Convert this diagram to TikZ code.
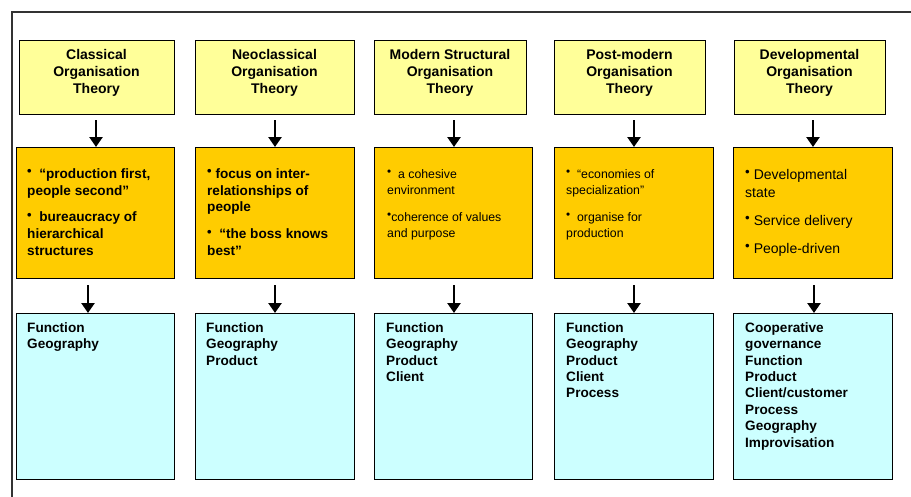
\documentclass[tikz,border=0pt]{standalone}
\usepackage{fontspec}
\setmainfont{Liberation Sans}
\usetikzlibrary{arrows.meta}

\definecolor{theoryfill}{HTML}{FFFF99}
\definecolor{traitfill}{HTML}{FFCC00}
\definecolor{formfill}{HTML}{CCFFFF}
\definecolor{framegray}{HTML}{333333}

\newcommand{\bul}{\raisebox{2.5pt}{\scalebox{0.95}{\textbullet}}}
\newcommand{\topstrut}{\rule{0pt}{10pt}}

\tikzset{
  box/.style={draw=black, line width=1.2pt, inner sep=0pt, anchor=north west},
  theory/.style={box, fill=theoryfill},
  trait/.style={box, fill=traitfill},
  form/.style={box, fill=formfill},
  headtext/.style={anchor=north, inner sep=0pt, align=center,
    font=\fontsize{14}{17}\selectfont\bfseries},
  bodytext/.style={anchor=north west, inner sep=0pt, align=left},
  flow/.style={line width=2.6pt, -{Triangle[width=13pt,length=10pt]}},
}

\begin{document}
\begin{tikzpicture}[x=1pt, y=-1pt]
\useasboundingbox (0,0) rectangle (911,496);

% outer frame (runs off the right and bottom edges)
\draw[framegray, line width=2pt] (912,12) -- (12,12) -- (12,497);

% theory boxes
\node[theory, minimum width=155pt, minimum height=74pt] (t1) at (19,40) {};
\node[theory, minimum width=159pt, minimum height=74pt] (t2) at (195,40) {};
\node[theory, minimum width=152pt, minimum height=74pt] (t3) at (374,40) {};
\node[theory, minimum width=151pt, minimum height=74pt] (t4) at (554,40) {};
\node[theory, minimum width=151pt, minimum height=74pt] (t5) at (734,40) {};

\node[headtext] (tt1) at (96.5,49) {\topstrut Classical\\Organisation\\Theory};
\node[headtext] (tt2) at (274.5,49) {\topstrut Neoclassical\\Organisation\\Theory};
\node[headtext] (tt3) at (450,49) {\topstrut Modern Structural\\Organisation\\Theory};
\node[headtext] (tt4) at (629.5,49) {\topstrut Post-modern\\Organisation\\Theory};
\node[headtext] (tt5) at (809.5,49) {\topstrut Developmental\\Organisation\\Theory};

% characteristic boxes
\node[trait, minimum width=158pt, minimum height=131pt] (c1) at (16,147) {};
\node[trait, minimum width=159pt, minimum height=131pt] (c2) at (195,147) {};
\node[trait, minimum width=158pt, minimum height=131pt] (c3) at (374,147) {};
\node[trait, minimum width=159pt, minimum height=131pt] (c4) at (554,147) {};
\node[trait, minimum width=159pt, minimum height=131pt] (c5) at (733,147) {};

\node[bodytext, font=\fontsize{13.6}{16.8}\selectfont\bfseries] (ct1) at (27,168)
  {\topstrut\bul\ \ “production first,\\people second”\\[10pt]
   \bul\ \ bureaucracy of\\hierarchical\\structures};
\node[bodytext, font=\fontsize{13.6}{16.8}\selectfont\bfseries] (ct2) at (207,168)
  {\topstrut\bul\ focus on inter-\\relationships of\\people\\[10pt]
   \bul\ \ “the boss knows\\best”};
\node[bodytext, font=\fontsize{12.3}{16}\selectfont] (ct3) at (387,168)
  {\topstrut\bul\ \ a cohesive\\environment\\[11pt]
   \bul coherence of values\\and purpose};
\node[bodytext, font=\fontsize{12.3}{16}\selectfont] (ct4) at (566,168)
  {\topstrut\bul\ \ “economies of\\specialization”\\[11pt]
   \bul\ \ organise for\\production};
\node[bodytext, font=\fontsize{14}{18}\selectfont] (ct5) at (745,169)
  {\topstrut\bul\ Developmental\\state\\[10pt]
   \bul\ Service delivery\\[10pt]
   \bul\ People-driven};

% structural form boxes
\node[form, minimum width=158pt, minimum height=166pt] (f1) at (16,313) {};
\node[form, minimum width=159pt, minimum height=166pt] (f2) at (195,313) {};
\node[form, minimum width=158pt, minimum height=166pt] (f3) at (374,313) {};
\node[form, minimum width=159pt, minimum height=166pt] (f4) at (554,313) {};
\node[form, minimum width=159pt, minimum height=166pt] (f5) at (733,313) {};

\node[bodytext, font=\fontsize{13.6}{16.4}\selectfont\bfseries] (ft1) at (27,322)
  {\topstrut Function\\Geography};
\node[bodytext, font=\fontsize{13.6}{16.4}\selectfont\bfseries] (ft2) at (206,322)
  {\topstrut Function\\Geography\\Product};
\node[bodytext, font=\fontsize{13.6}{16.4}\selectfont\bfseries] (ft3) at (386,322)
  {\topstrut Function\\Geography\\Product\\Client};
\node[bodytext, font=\fontsize{13.6}{16.4}\selectfont\bfseries] (ft4) at (566,322)
  {\topstrut Function\\Geography\\Product\\Client\\Process};
\node[bodytext, font=\fontsize{13.6}{16.4}\selectfont\bfseries] (ft5) at (745,322)
  {\topstrut Cooperative\\governance\\Function\\Product\\Client/customer\\Process\\Geography\\Improvisation};

% connectors: theory -> characteristics
\draw[flow] ([yshift=-5pt]t1.south -| 96,0) -- (c1.north -| 96,0);
\draw[flow] ([yshift=-5pt]t2.south -| 275,0) -- (c2.north -| 275,0);
\draw[flow] ([yshift=-5pt]t3.south -| 454,0) -- (c3.north -| 454,0);
\draw[flow] ([yshift=-5pt]t4.south -| 634,0) -- (c4.north -| 634,0);
\draw[flow] ([yshift=-5pt]t5.south -| 813,0) -- (c5.north -| 813,0);

% connectors: characteristics -> structural forms
\draw[flow] ([yshift=-6pt]c1.south -| 88,0) -- (f1.north -| 88,0);
\draw[flow] ([yshift=-6pt]c2.south -| 275,0) -- (f2.north -| 275,0);
\draw[flow] ([yshift=-6pt]c3.south -| 454,0) -- (f3.north -| 454,0);
\draw[flow] ([yshift=-6pt]c4.south -| 634,0) -- (f4.north -| 634,0);
\draw[flow] ([yshift=-6pt]c5.south -| 814,0) -- (f5.north -| 814,0);
\end{tikzpicture}
\end{document}
